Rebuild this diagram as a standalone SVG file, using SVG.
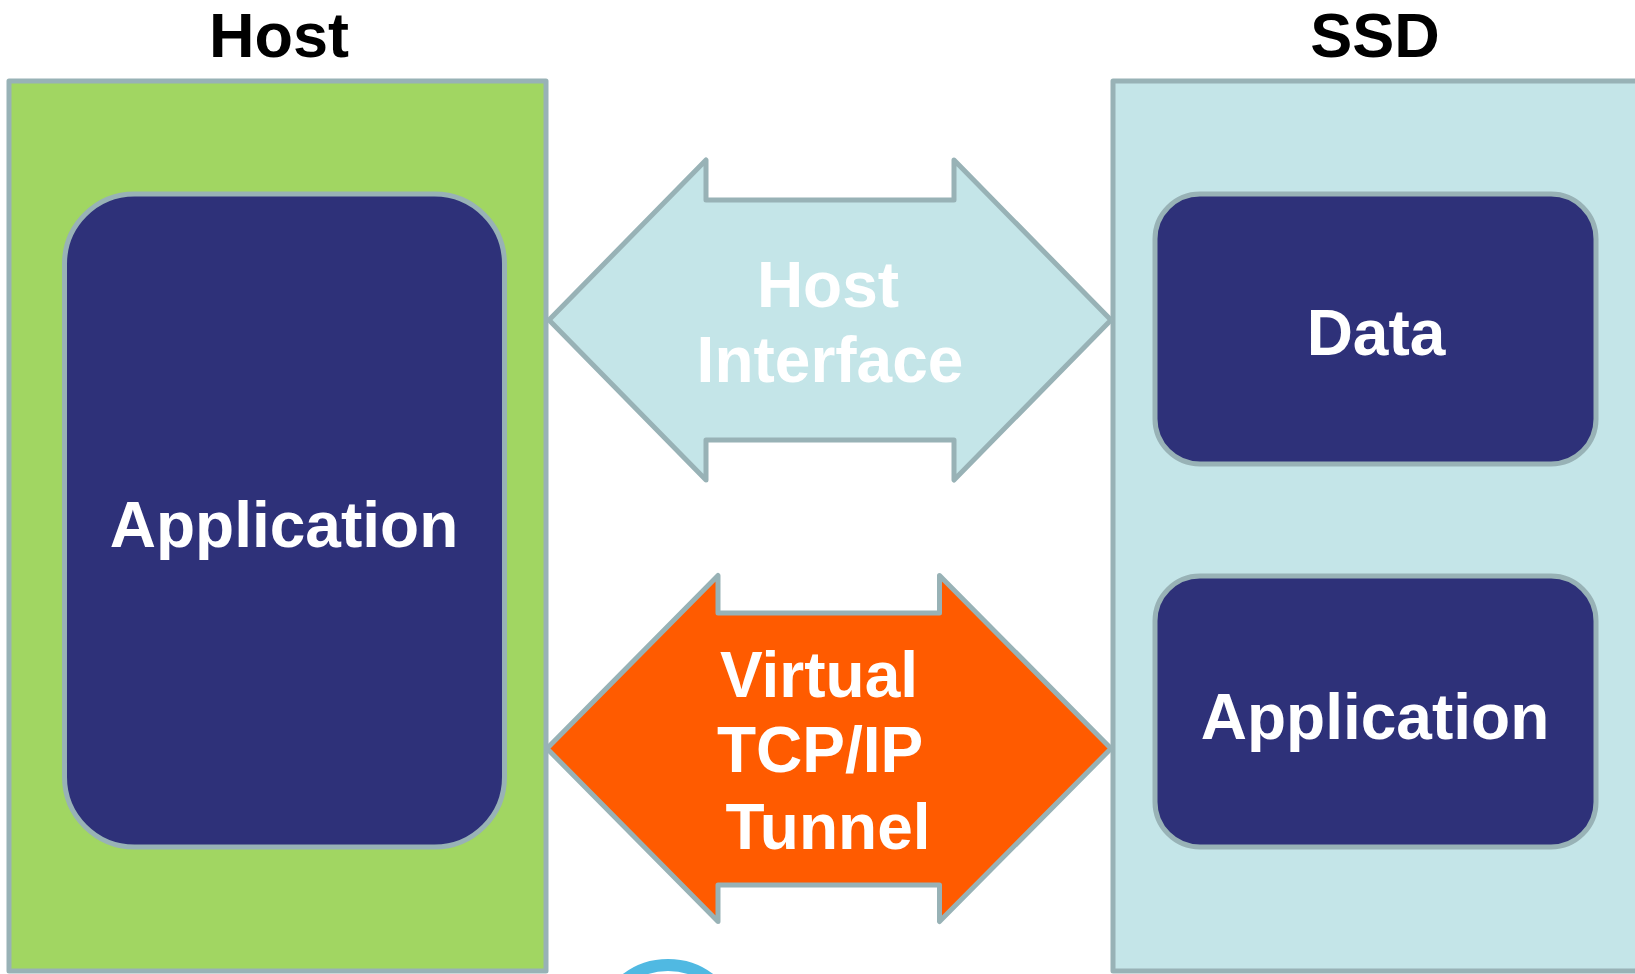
<svg xmlns="http://www.w3.org/2000/svg" width="1635" height="974" viewBox="0 0 1635 974">
  <style>
    .title { font-family: "Liberation Sans", Arial, sans-serif; font-weight: bold; font-size: 63px; fill: #000000; text-anchor: middle; }
    .label { font-family: "Liberation Sans", Arial, sans-serif; font-weight: bold; font-size: 64px; fill: #ffffff; text-anchor: middle; }
    .outline { stroke: #98b2b6; stroke-width: 5; stroke-linejoin: round; }
    .host-box { fill: #a1d662; }
    .ssd-box { fill: #c4e5e8; }
    .node-box { fill: #2e3179; }
    .hi-arrow { fill: #c4e5e8; }
    .tcp-arrow { fill: #ff5b00; }
  </style>
  <rect width="1635" height="974" fill="#ffffff"/>

  <g id="host">
    <text class="title" x="279" y="57">Host</text>
    <rect class="host-box outline" x="9" y="81" width="537" height="890"/>
  </g>

  <g id="ssd">
    <text class="title" x="1375" y="57">SSD</text>
    <rect class="ssd-box outline" x="1113" y="81" width="540" height="890"/>
  </g>

  <g id="host-application">
    <rect class="node-box outline" x="64.5" y="194" width="440" height="653" rx="70" ry="70"/>
    <text class="label" x="284" y="547">Application</text>
  </g>

  <g id="ssd-data">
    <rect class="node-box outline" x="1155" y="194" width="441" height="270" rx="45" ry="45"/>
    <text class="label" x="1376" y="355">Data</text>
  </g>

  <g id="ssd-application">
    <rect class="node-box outline" x="1155" y="576" width="441" height="271" rx="45" ry="45"/>
    <text class="label" x="1375" y="739">Application</text>
  </g>

  <g id="connectors">
    <g id="host-interface">
      <polygon class="hi-arrow outline" points="549,320 706,160 706,200 954,200 954,160 1111,320 954,480 954,440 706,440 706,480"/>
      <text class="label" x="828" y="307">Host</text>
      <text class="label" x="830" y="382">Interface</text>
    </g>
    <g id="tcp-tunnel">
      <polygon class="tcp-arrow outline" points="547,748.5 718,575.5 718,613 939.5,613 939.5,575.5 1111,748.5 939.5,921.5 939.5,885 718,885 718,921.5"/>
      <text class="label" x="819" y="697">Virtual</text>
      <text class="label" x="820" y="772">TCP/IP</text>
      <text class="label" x="828" y="849">Tunnel</text>
    </g>
  </g>

  <g id="bottom-ring">
    <circle cx="668" cy="1034" r="69" fill="none" stroke="#50b9e2" stroke-width="12"/>
  </g>
</svg>
